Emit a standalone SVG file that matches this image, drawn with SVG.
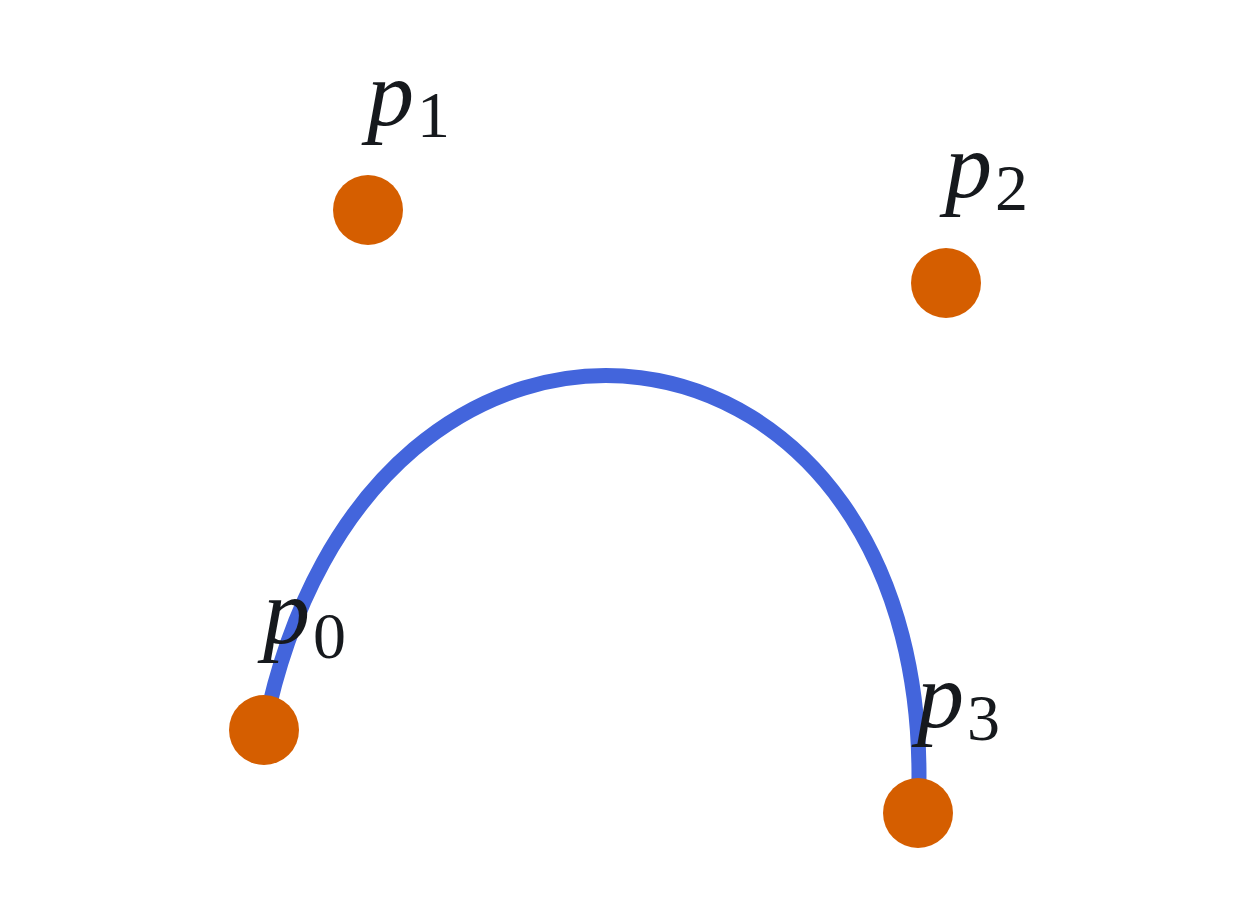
<svg xmlns="http://www.w3.org/2000/svg" width="1260" height="912" viewBox="0 0 1260 912">
<style>
.pt{fill:#d55e00}
.lbl{font-family:"Liberation Serif","DejaVu Serif",serif;fill:#16191d}
.v{font-style:italic;font-size:94px}
.s{font-size:66px}
</style>
<rect width="1260" height="912" fill="#ffffff"/>
<g id="connectors">
<path d="M264,730 C368,210 946,283 918,813" fill="none" stroke="#4365dc" stroke-width="15"/>
</g>
<g id="p0"><circle class="pt" cx="264" cy="730" r="35"/><text class="lbl" x="263" y="643"><tspan class="v">p</tspan><tspan class="s" dx="3" dy="15">0</tspan></text></g>
<g id="p1"><circle class="pt" cx="368" cy="210" r="35"/><text class="lbl" x="367" y="125"><tspan class="v">p</tspan><tspan class="s" dx="3" dy="12">1</tspan></text></g>
<g id="p2"><circle class="pt" cx="946" cy="283" r="35"/><text class="lbl" x="945" y="197"><tspan class="v">p</tspan><tspan class="s" dx="3" dy="13">2</tspan></text></g>
<g id="p3"><circle class="pt" cx="918" cy="813" r="35"/><text class="lbl" x="917" y="727"><tspan class="v">p</tspan><tspan class="s" dx="3" dy="13">3</tspan></text></g>
</svg>
